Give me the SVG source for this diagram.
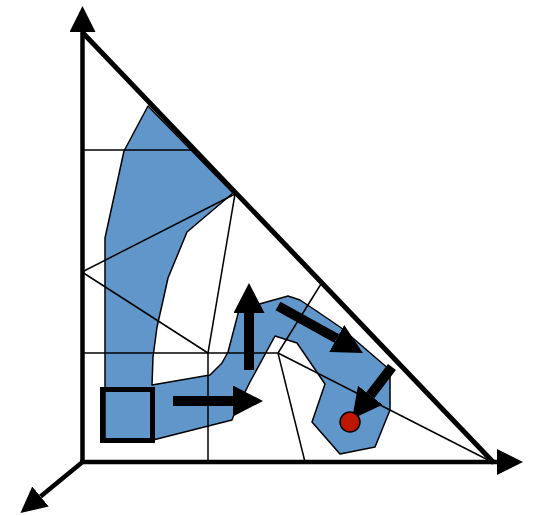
<svg xmlns="http://www.w3.org/2000/svg" width="533" height="516" viewBox="0 0 533 516">
<style>
.grid{stroke:#000;stroke-width:1.5;fill:none}
.axis{stroke:#000;stroke-width:4.5;fill:none}
.move{stroke:#000;stroke-width:10;fill:none}
.region{fill:#6096c9;stroke:#000;stroke-width:1.5;stroke-linejoin:round}
</style>
<defs>
<marker id="axhead" markerUnits="userSpaceOnUse" viewBox="0 0 26 26" refX="0" refY="13" markerWidth="26" markerHeight="26" orient="auto"><path d="M0,0 L26,13 L0,26 z" fill="#000"/></marker>
<marker id="mvhead" markerUnits="userSpaceOnUse" viewBox="0 0 30 31" refX="0" refY="15.5" markerWidth="30" markerHeight="31" orient="auto"><path d="M0,0 L30,15.5 L0,31 z" fill="#000"/></marker>
</defs>
<g id="region">
<polygon class="region" points="148,106 233,193 187,232 168,278 162,305 157,327 153,357 152,385 210,375 222,363 228,352 239,310 263,303 288,296 300,300 318,312 340,327 390,370 390,410 375,447 340,454 312,422 325,384 297,343 275,336 250,382 235,412 232,420 153,440 105,440 105,238 124,151"/>
</g>
<g id="grid">
<line class="grid" x1="82" y1="150" x2="193" y2="150"/>
<line class="grid" x1="82" y1="272" x2="235" y2="194"/>
<line class="grid" x1="235" y1="194" x2="208" y2="353"/>
<line class="grid" x1="82" y1="272" x2="208" y2="353"/>
<line class="grid" x1="82" y1="353" x2="278" y2="353"/>
<line class="grid" x1="208" y1="353" x2="208" y2="462"/>
<line class="grid" x1="278" y1="353" x2="321" y2="284"/>
<line class="grid" x1="278" y1="353" x2="305" y2="462"/>
<line class="grid" x1="278" y1="353" x2="492" y2="462"/>
</g>
<g id="axes">
<line class="axis" x1="82.5" y1="464" x2="82.5" y2="32" marker-end="url(#axhead)"/>
<line class="axis" x1="80" y1="462" x2="497" y2="462" marker-end="url(#axhead)"/>
<line class="axis" x1="82.5" y1="462" x2="40.5" y2="496.5" marker-end="url(#axhead)"/>
<line id="hypotenuse" x1="83" y1="33" x2="494" y2="463" stroke="#000" stroke-width="5"/>
</g>
<g id="start">
<rect x="102.5" y="389.5" width="50" height="51" fill="none" stroke="#000" stroke-width="5"/>
</g>
<g id="moves">
<line class="move" x1="173" y1="401" x2="233" y2="401" marker-end="url(#mvhead)"/>
<line class="move" x1="249" y1="370" x2="249" y2="313" marker-end="url(#mvhead)"/>
<line class="move" x1="278" y1="306" x2="336.7" y2="338.5" marker-end="url(#mvhead)"/>
<line class="move" x1="392" y1="367" x2="370.3" y2="395.2" marker-end="url(#mvhead)"/>
</g>
<g id="goal">
<circle cx="350" cy="422" r="10" fill="#bf1600" stroke="#000" stroke-width="1.5"/>
</g>
</svg>
